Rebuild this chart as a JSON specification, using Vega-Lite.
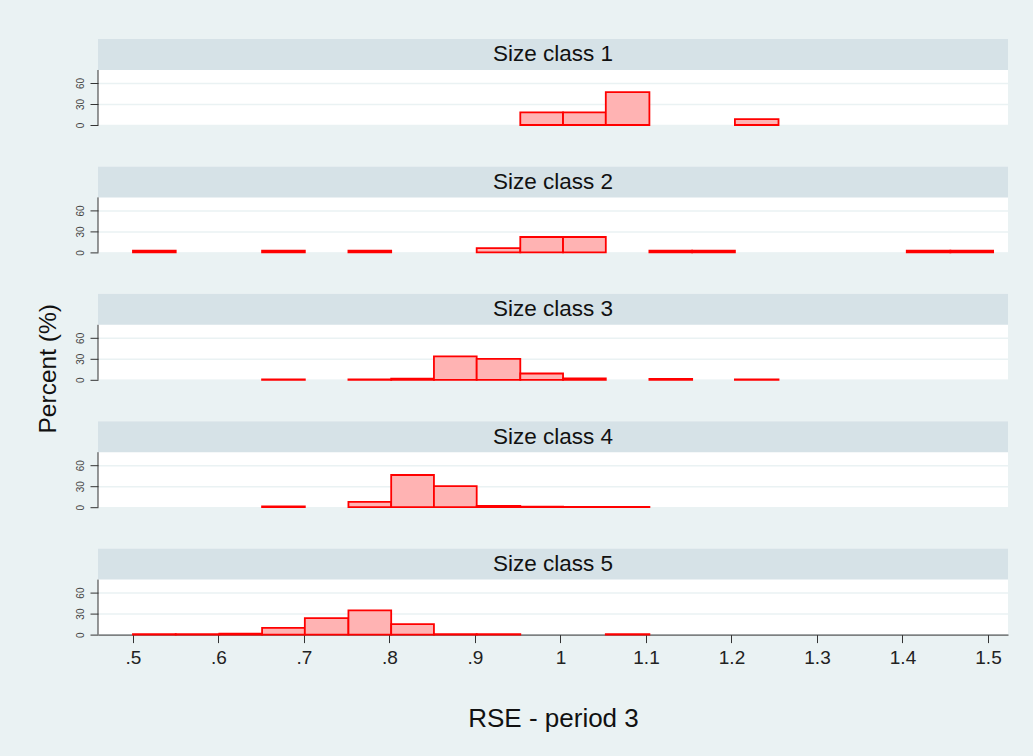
{
  "$schema": "https://vega.github.io/schema/vega-lite/v6.json",
  "background": "#eaf2f3",
  "padding": {"left": 35, "top": 39, "right": 26, "bottom": 24},
  "config": {
    "font": "Liberation Sans",
    "view": {"stroke": null}
  },
  "datasets": {
    "bars": [
      {"cls": 1, "b0": 0.953, "b1": 1.003, "pct": 18},
      {"cls": 1, "b0": 1.003, "b1": 1.053, "pct": 18},
      {"cls": 1, "b0": 1.053, "b1": 1.104, "pct": 47},
      {"cls": 1, "b0": 1.204, "b1": 1.255, "pct": 8.5},
      {"cls": 2, "b0": 0.500, "b1": 0.550, "pct": 2.5},
      {"cls": 2, "b0": 0.651, "b1": 0.701, "pct": 2.5},
      {"cls": 2, "b0": 0.752, "b1": 0.802, "pct": 2.5},
      {"cls": 2, "b0": 0.902, "b1": 0.953, "pct": 6},
      {"cls": 2, "b0": 0.953, "b1": 1.003, "pct": 22},
      {"cls": 2, "b0": 1.003, "b1": 1.053, "pct": 22},
      {"cls": 2, "b0": 1.104, "b1": 1.154, "pct": 2.5},
      {"cls": 2, "b0": 1.154, "b1": 1.204, "pct": 2.5},
      {"cls": 2, "b0": 1.405, "b1": 1.456, "pct": 2.5},
      {"cls": 2, "b0": 1.456, "b1": 1.506, "pct": 2.5},
      {"cls": 3, "b0": 0.651, "b1": 0.701, "pct": 0.5},
      {"cls": 3, "b0": 0.752, "b1": 0.802, "pct": 0.5},
      {"cls": 3, "b0": 0.802, "b1": 0.852, "pct": 1.8},
      {"cls": 3, "b0": 0.852, "b1": 0.902, "pct": 33.5},
      {"cls": 3, "b0": 0.902, "b1": 0.953, "pct": 30},
      {"cls": 3, "b0": 0.953, "b1": 1.003, "pct": 9},
      {"cls": 3, "b0": 1.003, "b1": 1.053, "pct": 2},
      {"cls": 3, "b0": 1.104, "b1": 1.154, "pct": 1.2},
      {"cls": 3, "b0": 1.204, "b1": 1.255, "pct": 0.5},
      {"cls": 4, "b0": 0.651, "b1": 0.701, "pct": 1},
      {"cls": 4, "b0": 0.752, "b1": 0.802, "pct": 7.5},
      {"cls": 4, "b0": 0.802, "b1": 0.852, "pct": 46},
      {"cls": 4, "b0": 0.852, "b1": 0.902, "pct": 30},
      {"cls": 4, "b0": 0.902, "b1": 0.953, "pct": 2},
      {"cls": 4, "b0": 0.953, "b1": 1.003, "pct": 0.8},
      {"cls": 4, "b0": 1.003, "b1": 1.053, "pct": 0.5},
      {"cls": 4, "b0": 1.053, "b1": 1.104, "pct": 0.5},
      {"cls": 5, "b0": 0.500, "b1": 0.550, "pct": 0.5},
      {"cls": 5, "b0": 0.550, "b1": 0.601, "pct": 0.5},
      {"cls": 5, "b0": 0.601, "b1": 0.651, "pct": 1.5},
      {"cls": 5, "b0": 0.651, "b1": 0.701, "pct": 9.5},
      {"cls": 5, "b0": 0.701, "b1": 0.752, "pct": 23.5},
      {"cls": 5, "b0": 0.752, "b1": 0.802, "pct": 34.5},
      {"cls": 5, "b0": 0.802, "b1": 0.852, "pct": 15},
      {"cls": 5, "b0": 0.852, "b1": 0.902, "pct": 0.5},
      {"cls": 5, "b0": 0.902, "b1": 0.953, "pct": 0.5},
      {"cls": 5, "b0": 1.053, "b1": 1.104, "pct": 0.5}
    ]
  },
  "spacing": 41.4,
  "bounds": "flush",
  "vconcat": [
    {"width": 910, "height": 86, "view": {"fill": "#ffffff", "stroke": null},
     "layer": [
       {"data": {"name": "bars"}, "transform": [{"filter": "datum.cls == 1"}],
        "mark": {"type": "rect", "fill": "#ffb3b3", "stroke": "#ff0000", "strokeWidth": 1.8},
        "encoding": {
          "x": {"field": "b0", "type": "quantitative", "scale": {"domain": [0.4591, 1.5234], "nice": false, "zero": false}, "axis": null},
          "x2": {"field": "b1"},
          "y": {"field": "pct", "type": "quantitative", "title": null, "scale": {"domain": [0, 122.9], "nice": false},
                "axis": {"values": [0, 30, 60], "domain": false, "labelAngle": 270, "labelAlign": "center", "labelBaseline": "bottom", "labelFontSize": 10, "labelColor": "#444444", "labelPadding": 5, "tickSize": 8, "tickColor": "#333333", "gridColor": "#eaf2f3", "gridWidth": 1.5}},
          "y2": {"datum": 0}}},
       {"data": {"values": [{"label": "Size class 1"}]},
        "mark": {"type": "rect", "fill": "#d6e2e7"},
        "encoding": {"y": {"datum": 78.6, "type": "quantitative", "title": null}, "y2": {"datum": 122.9}}},
       {"data": {"values": [{"label": "Size class 1"}]},
        "mark": {"type": "text", "fontSize": 22.5, "color": "#111111", "baseline": "middle"},
        "encoding": {"text": {"field": "label"}, "y": {"datum": 100.75, "type": "quantitative", "title": null}}},
       {"data": {"values": [{"label": "Size class 1"}]},
        "mark": {"type": "rule", "color": "#333333", "strokeWidth": 1},
        "encoding": {"x": {"datum": 0.4591, "type": "quantitative", "axis": null, "title": null}, "y": {"datum": 0, "type": "quantitative", "title": null}, "y2": {"datum": 78.6}}}
     ]},
    {"width": 910, "height": 86, "view": {"fill": "#ffffff", "stroke": null},
     "layer": [
       {"data": {"name": "bars"}, "transform": [{"filter": "datum.cls == 2"}],
        "mark": {"type": "rect", "fill": "#ffb3b3", "stroke": "#ff0000", "strokeWidth": 1.8},
        "encoding": {
          "x": {"field": "b0", "type": "quantitative", "scale": {"domain": [0.4591, 1.5234], "nice": false, "zero": false}, "axis": null},
          "x2": {"field": "b1"},
          "y": {"field": "pct", "type": "quantitative", "title": null, "scale": {"domain": [0, 122.9], "nice": false},
                "axis": {"values": [0, 30, 60], "domain": false, "labelAngle": 270, "labelAlign": "center", "labelBaseline": "bottom", "labelFontSize": 10, "labelColor": "#444444", "labelPadding": 5, "tickSize": 8, "tickColor": "#333333", "gridColor": "#eaf2f3", "gridWidth": 1.5}},
          "y2": {"datum": 0}}},
       {"data": {"values": [{"label": "Size class 2"}]},
        "mark": {"type": "rect", "fill": "#d6e2e7"},
        "encoding": {"y": {"datum": 78.6, "type": "quantitative", "title": null}, "y2": {"datum": 122.9}}},
       {"data": {"values": [{"label": "Size class 2"}]},
        "mark": {"type": "text", "fontSize": 22.5, "color": "#111111", "baseline": "middle"},
        "encoding": {"text": {"field": "label"}, "y": {"datum": 100.75, "type": "quantitative", "title": null}}},
       {"data": {"values": [{"label": "Size class 2"}]},
        "mark": {"type": "rule", "color": "#333333", "strokeWidth": 1},
        "encoding": {"x": {"datum": 0.4591, "type": "quantitative", "axis": null, "title": null}, "y": {"datum": 0, "type": "quantitative", "title": null}, "y2": {"datum": 78.6}}}
     ]},
    {"width": 910, "height": 86, "view": {"fill": "#ffffff", "stroke": null},
     "layer": [
       {"data": {"name": "bars"}, "transform": [{"filter": "datum.cls == 3"}],
        "mark": {"type": "rect", "fill": "#ffb3b3", "stroke": "#ff0000", "strokeWidth": 1.8},
        "encoding": {
          "x": {"field": "b0", "type": "quantitative", "scale": {"domain": [0.4591, 1.5234], "nice": false, "zero": false}, "axis": null},
          "x2": {"field": "b1"},
          "y": {"field": "pct", "type": "quantitative", "title": "Percent (%)", "scale": {"domain": [0, 122.9], "nice": false},
                "axis": {"values": [0, 30, 60], "domain": false, "titleFontSize": 24.5, "titleFontWeight": "normal", "titleColor": "#111111", "titleAngle": 270, "titleX": -50, "titleY": 74.5, "titleAlign": "center", "titleBaseline": "middle",
                         "labelAngle": 270, "labelAlign": "center", "labelBaseline": "bottom", "labelFontSize": 10, "labelColor": "#444444", "labelPadding": 5, "tickSize": 8, "tickColor": "#333333", "gridColor": "#eaf2f3", "gridWidth": 1.5}},
          "y2": {"datum": 0}}},
       {"data": {"values": [{"label": "Size class 3"}]},
        "mark": {"type": "rect", "fill": "#d6e2e7"},
        "encoding": {"y": {"datum": 78.6, "type": "quantitative", "title": "Percent (%)"}, "y2": {"datum": 122.9}}},
       {"data": {"values": [{"label": "Size class 3"}]},
        "mark": {"type": "text", "fontSize": 22.5, "color": "#111111", "baseline": "middle"},
        "encoding": {"text": {"field": "label"}, "y": {"datum": 100.75, "type": "quantitative", "title": "Percent (%)"}}},
       {"data": {"values": [{"label": "Size class 3"}]},
        "mark": {"type": "rule", "color": "#333333", "strokeWidth": 1},
        "encoding": {"x": {"datum": 0.4591, "type": "quantitative", "axis": null, "title": null}, "y": {"datum": 0, "type": "quantitative", "title": "Percent (%)"}, "y2": {"datum": 78.6}}}
     ]},
    {"width": 910, "height": 86, "view": {"fill": "#ffffff", "stroke": null},
     "layer": [
       {"data": {"name": "bars"}, "transform": [{"filter": "datum.cls == 4"}],
        "mark": {"type": "rect", "fill": "#ffb3b3", "stroke": "#ff0000", "strokeWidth": 1.8},
        "encoding": {
          "x": {"field": "b0", "type": "quantitative", "scale": {"domain": [0.4591, 1.5234], "nice": false, "zero": false}, "axis": null},
          "x2": {"field": "b1"},
          "y": {"field": "pct", "type": "quantitative", "title": null, "scale": {"domain": [0, 122.9], "nice": false},
                "axis": {"values": [0, 30, 60], "domain": false, "labelAngle": 270, "labelAlign": "center", "labelBaseline": "bottom", "labelFontSize": 10, "labelColor": "#444444", "labelPadding": 5, "tickSize": 8, "tickColor": "#333333", "gridColor": "#eaf2f3", "gridWidth": 1.5}},
          "y2": {"datum": 0}}},
       {"data": {"values": [{"label": "Size class 4"}]},
        "mark": {"type": "rect", "fill": "#d6e2e7"},
        "encoding": {"y": {"datum": 78.6, "type": "quantitative", "title": null}, "y2": {"datum": 122.9}}},
       {"data": {"values": [{"label": "Size class 4"}]},
        "mark": {"type": "text", "fontSize": 22.5, "color": "#111111", "baseline": "middle"},
        "encoding": {"text": {"field": "label"}, "y": {"datum": 100.75, "type": "quantitative", "title": null}}},
       {"data": {"values": [{"label": "Size class 4"}]},
        "mark": {"type": "rule", "color": "#333333", "strokeWidth": 1},
        "encoding": {"x": {"datum": 0.4591, "type": "quantitative", "axis": null, "title": null}, "y": {"datum": 0, "type": "quantitative", "title": null}, "y2": {"datum": 78.6}}}
     ]},
    {"width": 910, "height": 86, "view": {"fill": "#ffffff", "stroke": null},
     "layer": [
       {"data": {"name": "bars"}, "transform": [{"filter": "datum.cls == 5"}],
        "mark": {"type": "rect", "fill": "#ffb3b3", "stroke": "#ff0000", "strokeWidth": 1.8},
        "encoding": {
          "x": {"field": "b0", "type": "quantitative", "title": "RSE - period 3", "scale": {"domain": [0.4591, 1.5234], "nice": false, "zero": false},
                "axis": {"values": [0.5, 0.6, 0.7, 0.8, 0.9, 1, 1.1, 1.2, 1.3, 1.4, 1.5], "grid": false, "labelExpr": "datum.value < 1 ? substring(format(datum.value, '.1f'), 1) : format(datum.value, '~g')", "labelFontSize": 19, "labelColor": "#222222", "labelPadding": 5.5, "tickSize": 8, "tickColor": "#333333", "domainColor": "#333333", "titleFontSize": 26, "titleFontWeight": "normal", "titleColor": "#111111", "titlePadding": 38.5, "labelFlush": false}},
          "x2": {"field": "b1"},
          "y": {"field": "pct", "type": "quantitative", "title": null, "scale": {"domain": [0, 122.9], "nice": false},
                "axis": {"values": [0, 30, 60], "domain": false, "labelAngle": 270, "labelAlign": "center", "labelBaseline": "bottom", "labelFontSize": 10, "labelColor": "#444444", "labelPadding": 5, "tickSize": 8, "tickColor": "#333333", "gridColor": "#eaf2f3", "gridWidth": 1.5}},
          "y2": {"datum": 0}}},
       {"data": {"values": [{"label": "Size class 5"}]},
        "mark": {"type": "rect", "fill": "#d6e2e7"},
        "encoding": {"y": {"datum": 78.6, "type": "quantitative", "title": null}, "y2": {"datum": 122.9}}},
       {"data": {"values": [{"label": "Size class 5"}]},
        "mark": {"type": "text", "fontSize": 22.5, "color": "#111111", "baseline": "middle"},
        "encoding": {"text": {"field": "label"}, "y": {"datum": 100.75, "type": "quantitative", "title": null}}},
       {"data": {"values": [{"label": "Size class 5"}]},
        "mark": {"type": "rule", "color": "#333333", "strokeWidth": 1},
        "encoding": {"x": {"datum": 0.4591, "type": "quantitative", "title": "RSE - period 3"}, "y": {"datum": 0, "type": "quantitative", "title": null}, "y2": {"datum": 78.6}}}
     ]}
  ]
}
